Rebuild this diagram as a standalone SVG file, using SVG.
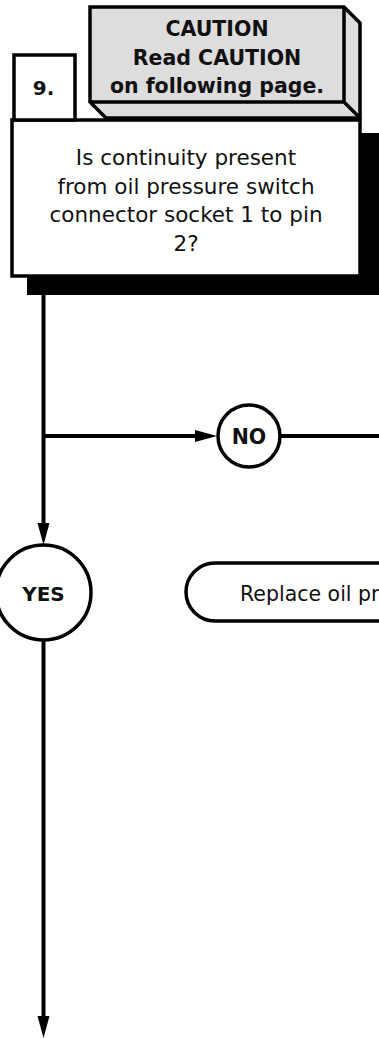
<svg xmlns="http://www.w3.org/2000/svg" width="379" height="1038" viewBox="0 0 379 1038">
<style>
.ln{fill:none;stroke:#000;stroke-width:4}
.bx{stroke:#000;stroke-width:3.5;stroke-linejoin:miter}
.t{font-family:"DejaVu Sans","Liberation Sans",sans-serif;fill:#111;text-anchor:middle}
.b{font-weight:bold}
</style>
<defs>
<marker id="ah" markerUnits="userSpaceOnUse" markerWidth="24" markerHeight="14" refX="12" refY="6" orient="auto">
<path d="M0,0 L22,6 L0,12 z" fill="#000"/>
</marker>
</defs>
<rect width="379" height="1038" fill="#fff"/>
<g id="question">
<rect x="27" y="133" width="380" height="162" fill="#000"/>
<rect class="bx" x="12" y="120" width="348" height="156" fill="#fff"/>
<text class="t" font-size="21.5"><tspan x="186" y="165">Is continuity present</tspan><tspan x="186" y="193.5">from oil pressure switch</tspan><tspan x="186" y="222">connector socket 1 to pin</tspan><tspan x="186" y="250.5">2?</tspan></text>
</g>
<g id="caution">
<path class="bx" d="M90,7 L344,7 L360,23 L360,118 L106,118 L90,102 Z" fill="#dddddd"/>
<path class="bx" d="M344,7 L344,102 L90,102 M344,102 L360,118" fill="none"/>
<text class="t b" font-size="20.5"><tspan x="217" y="36">CAUTION</tspan><tspan x="217" y="64.5">Read CAUTION</tspan><tspan x="217" y="93">on following page.</tspan></text>
</g>
<g id="step">
<rect class="bx" x="14" y="55" width="61" height="65" fill="#fff"/>
<text class="t b" x="43.5" y="95" font-size="20">9.</text>
</g>
<g id="connectors">
<line class="ln" x1="43.5" y1="295" x2="43.5" y2="535" marker-end="url(#ah)"/>
<line class="ln" x1="43.5" y1="436" x2="207" y2="436" marker-end="url(#ah)"/>
<line class="ln" x1="281" y1="436" x2="379" y2="436"/>
<line class="ln" x1="43.5" y1="641" x2="43.5" y2="1028" marker-end="url(#ah)"/>
</g>
<g id="no">
<circle class="bx" cx="249" cy="436" r="31" fill="#fff"/>
<text class="t b" x="249" y="443.5" font-size="20.5">NO</text>
</g>
<g id="yes">
<circle class="bx" cx="43.5" cy="592.5" r="47.5" fill="#fff"/>
<text class="t b" x="43.5" y="600.5" font-size="20">YES</text>
</g>
<g id="replace">
<rect class="bx" x="186" y="563" width="300" height="58" rx="29" fill="#fff"/>
<text class="t" x="240" y="600.5" font-size="20.5" style="text-anchor:start">Replace oil pr</text>
</g>
</svg>
